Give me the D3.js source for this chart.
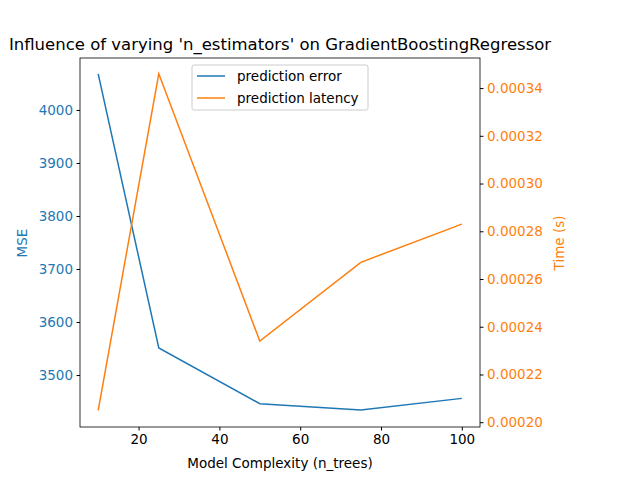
<!DOCTYPE html><html><head><script src="https://cdn.jsdelivr.net/npm/d3@7"></script>
<style>body{margin:0}text{font-family:"DejaVu Sans",sans-serif}</style></head><body><svg width="640" height="480"></svg>
<script>
const nTrees=[10,25,50,75,100];
const mse=[4068,3551,3446,3434,3456];
const latency=[0.000205,0.000346,0.000234,0.000267,0.000283];
const title="Influence of varying 'n_estimators' on GradientBoostingRegressor";
const blue="#1f77b4",orange="#ff7f0e";
const svg=d3.select("svg");
const L=80,R=480,T=58,B=427;
const x=d3.scaleLinear().domain([5.5,104.5]).range([L,R]);
const y1=d3.scaleLinear().domain([3402,4098]).range([B,T]);
const y2=d3.scaleLinear().domain([0.000198,0.0003526]).range([B,T]);
svg.append("rect").attr("width",640).attr("height",480).attr("fill","#fff");
const fmt=s=>s.selectAll("text").attr("font-size",13.5).attr("font-family","DejaVu Sans");
const gx=svg.append("g").attr("transform",`translate(0,${B})`).call(d3.axisBottom(x).tickValues([20,40,60,80,100]).tickSize(3.5).tickPadding(3.5));fmt(gx);
const g1=svg.append("g").attr("transform",`translate(${L},0)`).call(d3.axisLeft(y1).tickValues([3500,3600,3700,3800,3900,4000]).tickFormat(d3.format("d")).tickSize(3.5).tickPadding(3.5));fmt(g1);
g1.selectAll("text").attr("fill",blue);
const g2=svg.append("g").attr("transform",`translate(${R},0)`).call(d3.axisRight(y2).tickValues([0.0002,0.00022,0.00024,0.00026,0.00028,0.0003,0.00032,0.00034]).tickFormat(d3.format(".5f")).tickSize(3.5).tickPadding(3.5));fmt(g2);
g2.selectAll("text").attr("fill",orange);
[gx,g1,g2].forEach(g=>g.select(".domain").remove());
svg.append("rect").attr("x",L).attr("y",T).attr("width",R-L).attr("height",B-T).attr("fill","none").attr("stroke","#000").attr("stroke-width",0.8);
const line=(ys,d)=>d3.line().x((v,i)=>x(nTrees[i])).y(v=>ys(v))(d);
svg.append("path").attr("d",line(y1,mse)).attr("fill","none").attr("stroke",blue).attr("stroke-width",1.5);
svg.append("path").attr("d",line(y2,latency)).attr("fill","none").attr("stroke",orange).attr("stroke-width",1.5);
svg.append("text").attr("x",280).attr("y",50).attr("text-anchor","middle").attr("font-size",16.5).text(title);
svg.append("text").attr("x",280).attr("y",468).attr("text-anchor","middle").attr("font-size",13.5).text("Model Complexity (n_trees)");
svg.append("text").attr("transform","translate(27,243) rotate(-90)").attr("text-anchor","middle").attr("font-size",13.5).attr("fill",blue).text("MSE");
svg.append("text").attr("transform","translate(564,243) rotate(-90)").attr("text-anchor","middle").attr("font-size",13.5).attr("fill",orange).text("Time (s)");
const lg=svg.append("g");
lg.append("rect").attr("x",192).attr("y",65).attr("width",176).attr("height",45).attr("rx",2).attr("fill","#fff").attr("stroke","#ccc");
[["prediction error",blue],["prediction latency",orange]].forEach((d,i)=>{
 lg.append("line").attr("x1",197).attr("x2",225).attr("y1",76+i*22).attr("y2",76+i*22).attr("stroke",d[1]).attr("stroke-width",1.5);
 lg.append("text").attr("x",237).attr("y",81+i*22).attr("font-size",13.5).text(d[0]);
});
</script></body></html>
